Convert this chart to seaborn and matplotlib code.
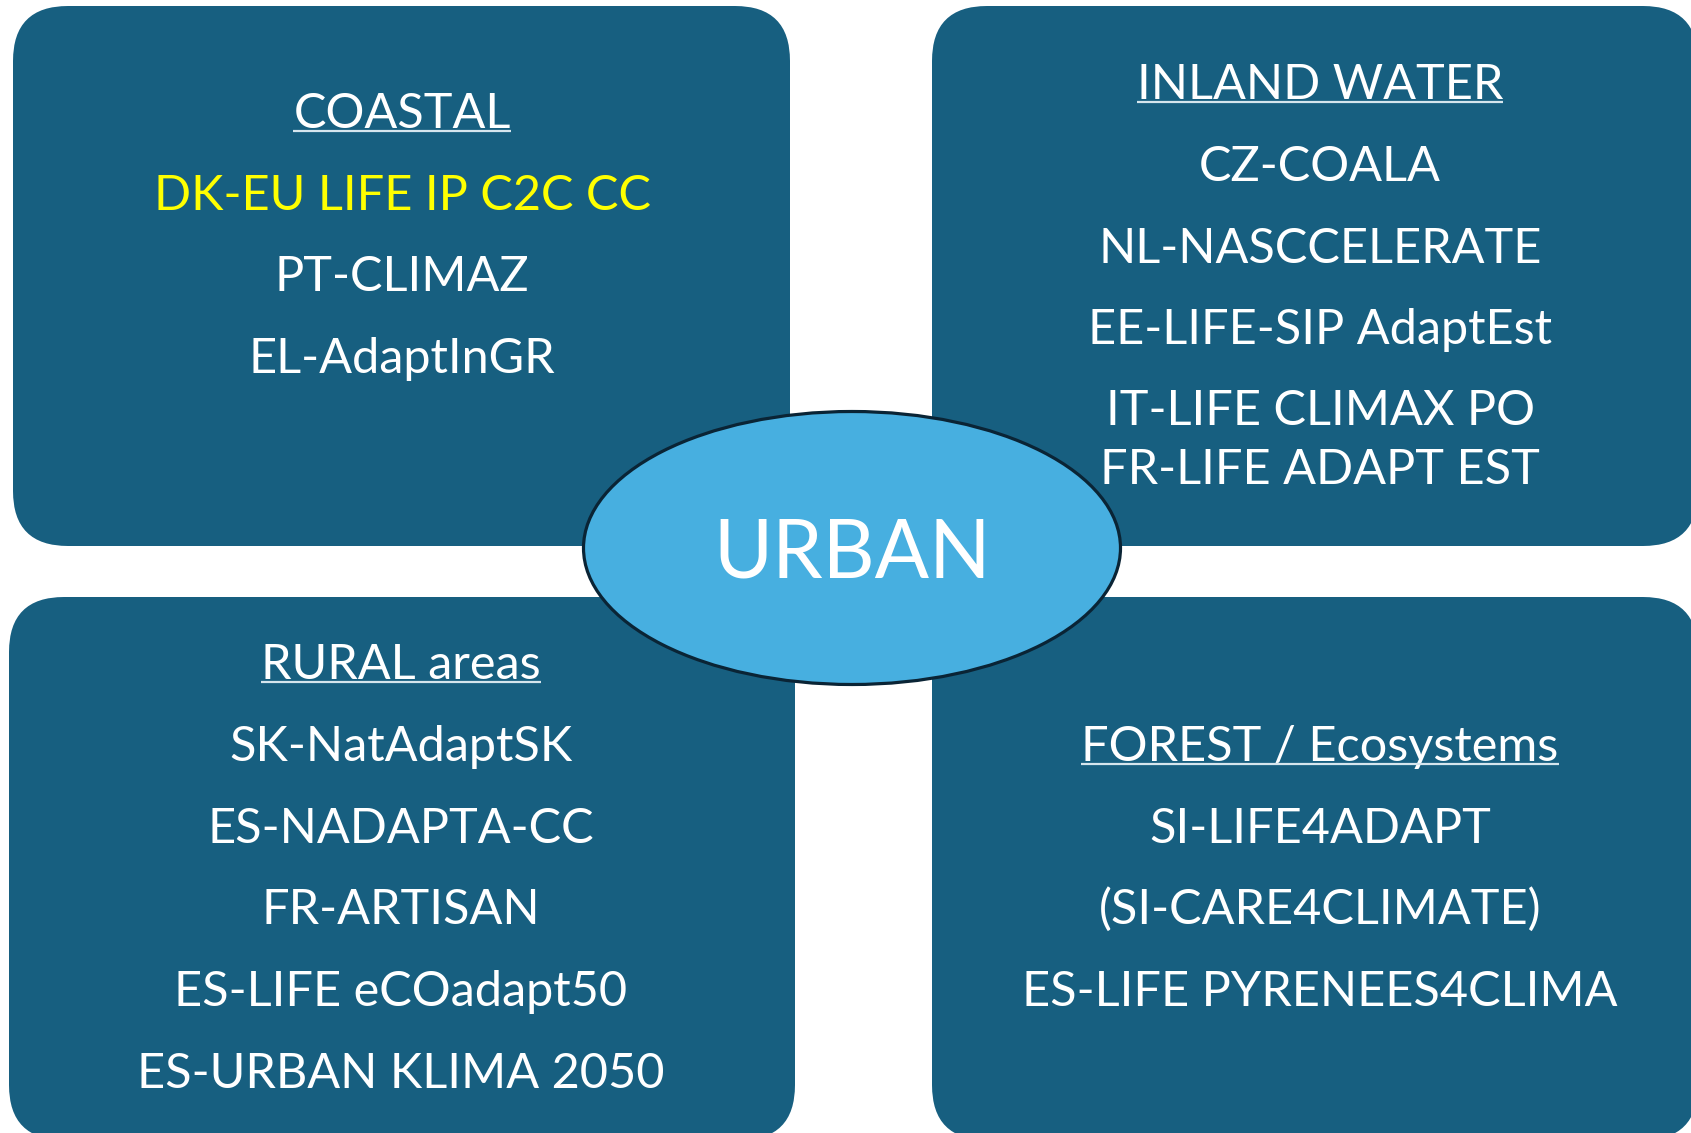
import matplotlib
matplotlib.use("Agg")
import matplotlib.pyplot as plt
from matplotlib.patches import FancyBboxPatch, Ellipse
import seaborn as sns

# ---- content ----
center_label = "URBAN"
coastal_title = "COASTAL"
coastal_items = ["DK-EU LIFE IP C2C CC", "PT-CLIMAZ", "EL-AdaptInGR"]
coastal_highlight = [True, False, False]
inland_title = "INLAND WATER"
inland_items = ["CZ-COALA", "NL-NASCCELERATE", "EE-LIFE-SIP AdaptEst",
                "IT-LIFE CLIMAX PO", "FR-LIFE ADAPT EST"]
rural_title = "RURAL areas"
rural_items = ["SK-NatAdaptSK", "ES-NADAPTA-CC", "FR-ARTISAN",
               "ES-LIFE eCOadapt50", "ES-URBAN KLIMA 2050"]
forest_title = "FOREST / Ecosystems"
forest_items = ["SI-LIFE4ADAPT", "(SI-CARE4CLIMATE)", "ES-LIFE PYRENEES4CLIMA"]

sns.set_theme(style="white")
plt.rcParams['font.family'] = ['Lato', 'DejaVu Sans']

W, H = 1691, 1133
fig = plt.figure(figsize=(W / 100, H / 100), dpi=100)
ax = fig.add_axes([0, 0, 1, 1])
ax.set_xlim(0, W)
ax.set_ylim(H, 0)
ax.axis("off")

BOX = "#175f80"
ELL = "#47afe0"
YEL = "#ffff00"

def box(x0, y0, x1, y1):
    p = FancyBboxPatch((x0, y0), x1 - x0, y1 - y0,
                       boxstyle="round,pad=0,rounding_size=55",
                       facecolor=BOX, edgecolor="none", zorder=1)
    ax.add_patch(p)

box(13, 6, 790, 546)
box(932, 6, 1698, 546)
box(9, 597, 795, 1140)
box(932, 597, 1698, 1140)

ax.add_patch(Ellipse((852, 548), 537, 273, facecolor=ELL,
                     edgecolor="#0a2435", linewidth=2.3, zorder=3))

FS = 35
CAP = 18  # half cap-height in px, to go from visual centre to baseline

fig.canvas.draw()
renderer = fig.canvas.get_renderer()

def write(x, yc, s, color="white", underline=False):
    t = ax.text(x, yc + CAP, s, color=color, fontsize=FS, ha="center",
                va="baseline", zorder=5)
    if underline:
        bb = t.get_window_extent(renderer=renderer)
        inv = ax.transData.inverted()
        (xa, _), (xb, _) = inv.transform([(bb.x0, 0), (bb.x1, 0)])
        yb = yc + CAP + 3
        ax.plot([xa, xb], [yb, yb], color="#d6e6ee", lw=1.6, zorder=5,
                solid_capstyle="butt")

def block(x, title, title_y, items, ys, colors=None):
    write(x, title_y, title, underline=True)
    for i, (s, y) in enumerate(zip(items, ys)):
        c = "white" if colors is None else colors[i]
        write(x, y, s, color=c)

block(402, coastal_title, 110, coastal_items, [192, 273, 355],
      [YEL if h else "white" for h in coastal_highlight])
block(1320, inland_title, 81, inland_items, [163, 245, 326, 407, 466])
block(401, rural_title, 661, rural_items, [743, 825, 906, 988, 1070])
block(1320, forest_title, 743, forest_items, [825, 906, 988])

ax.text(852, 548 + 30, center_label, color="white", fontsize=58,
        ha="center", va="baseline", zorder=5)

fig.savefig("out.png", dpi=100)
